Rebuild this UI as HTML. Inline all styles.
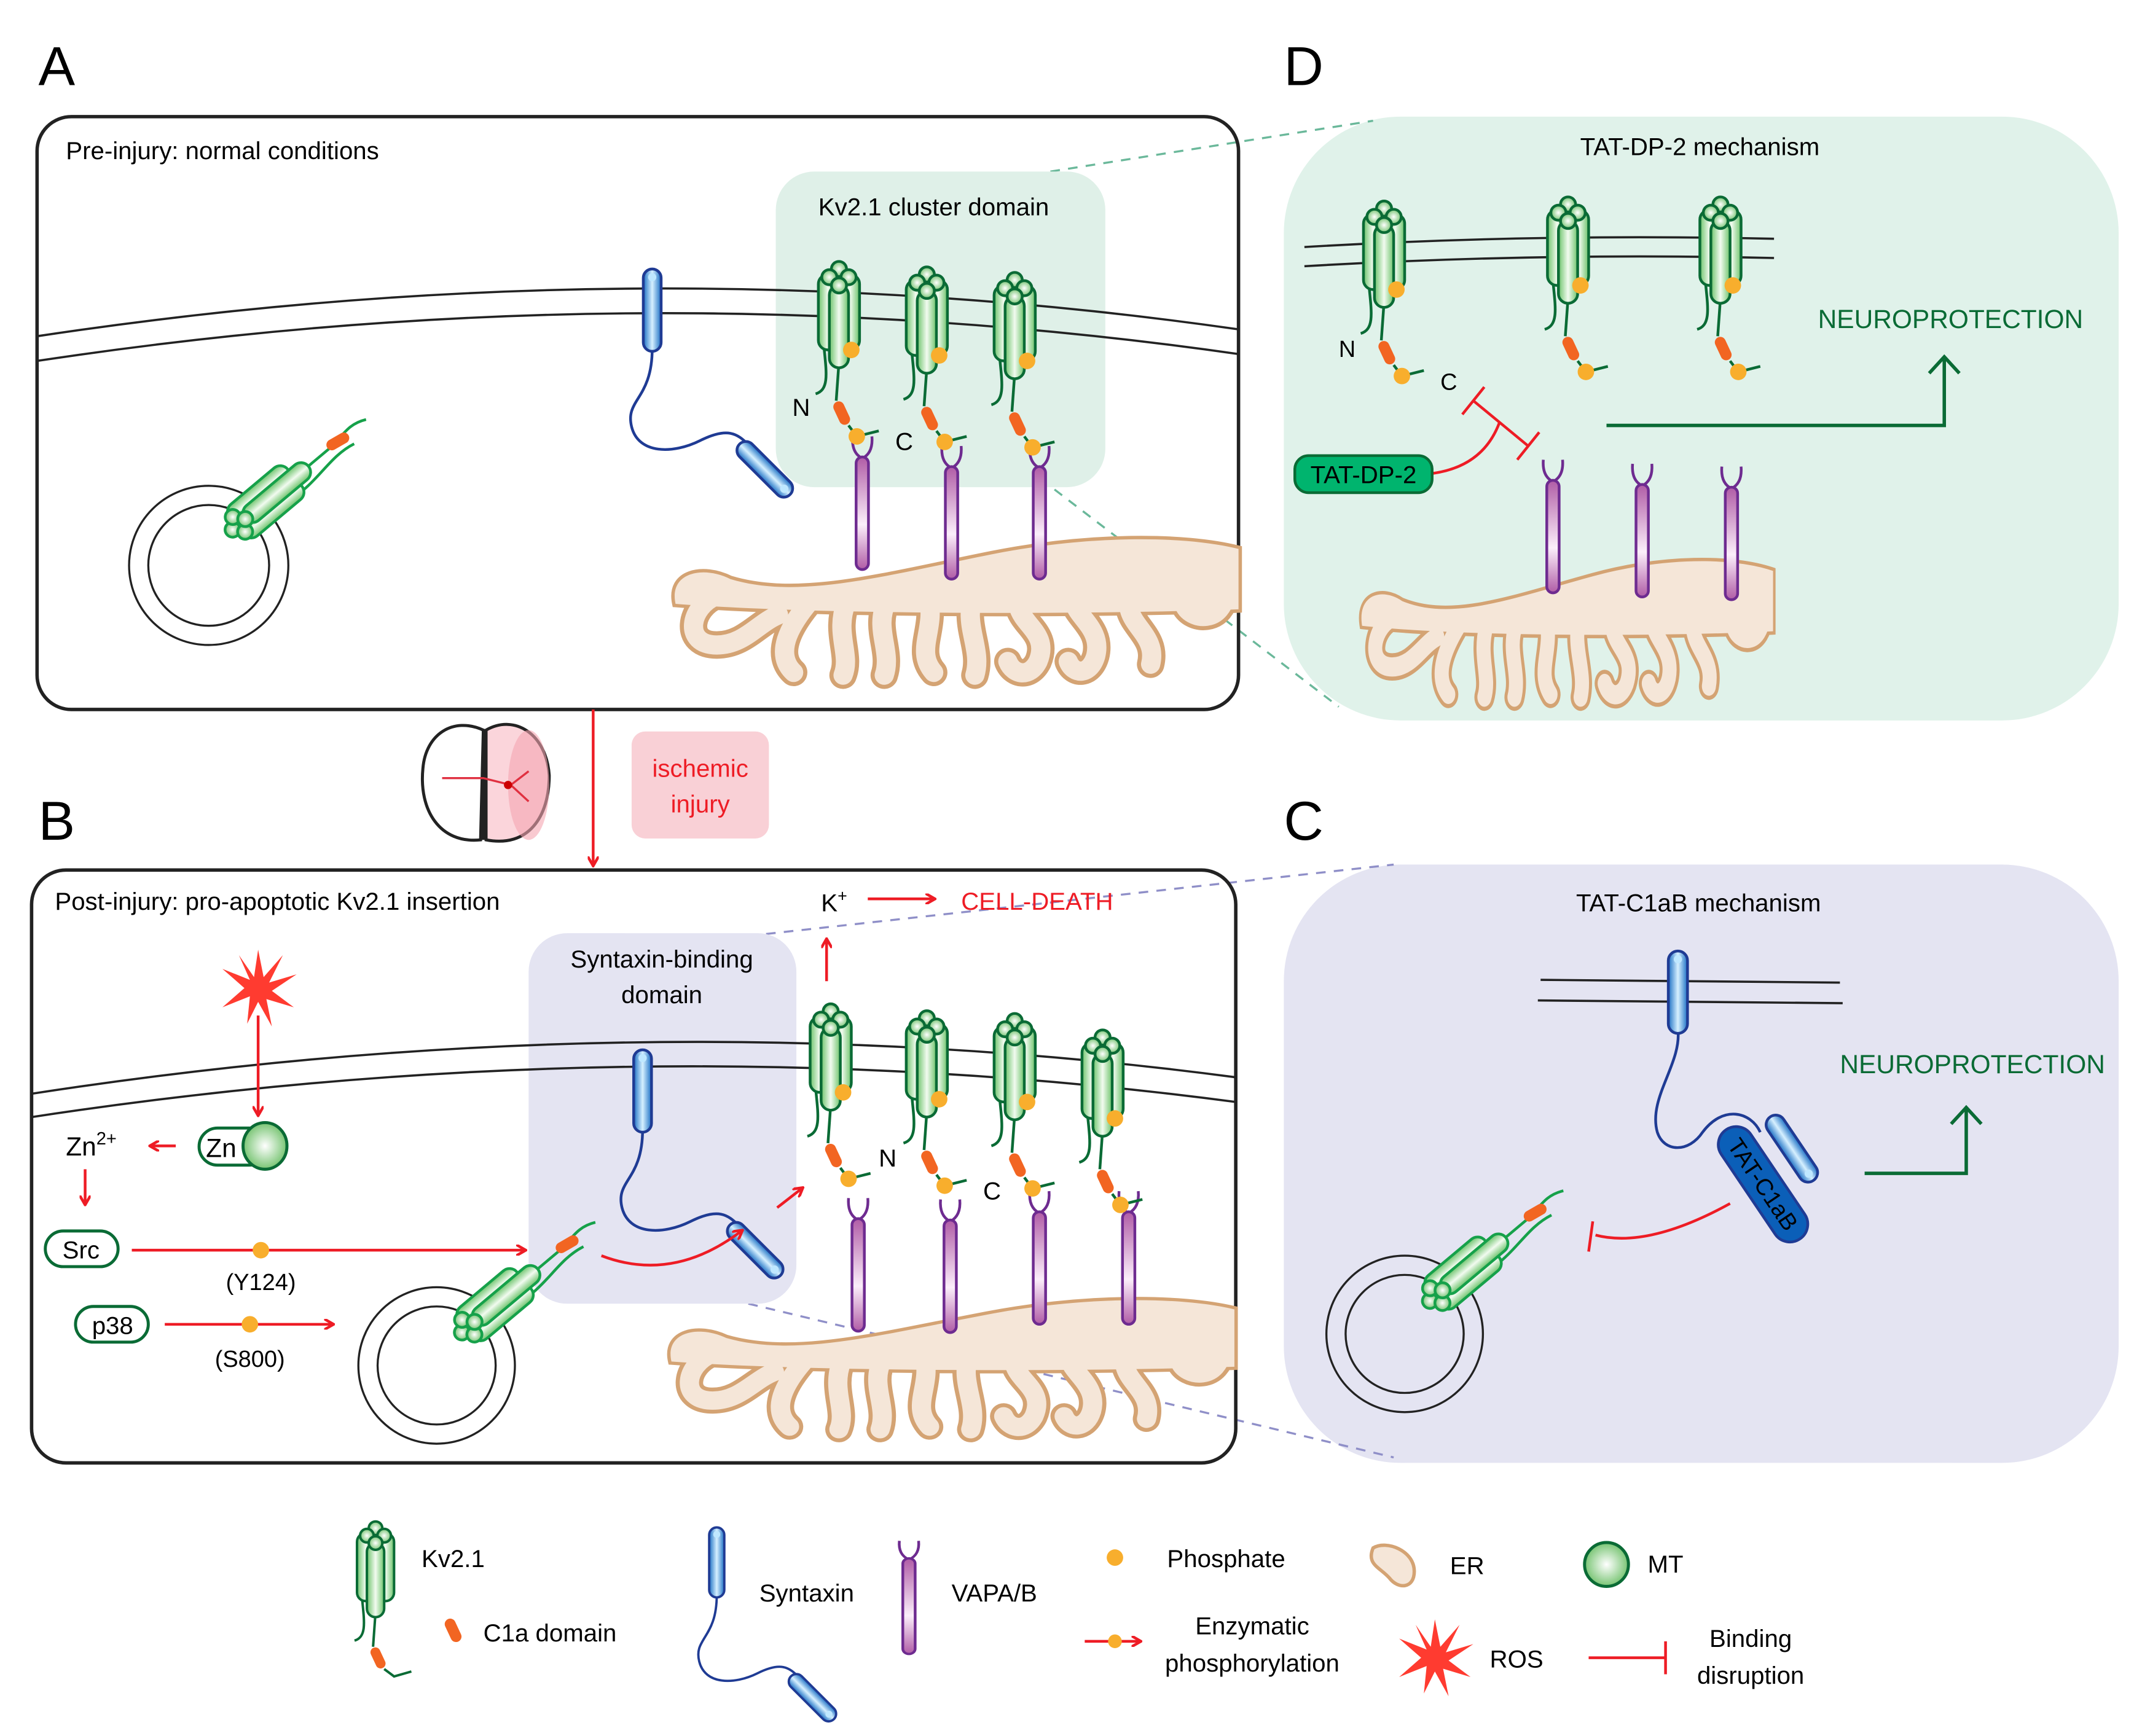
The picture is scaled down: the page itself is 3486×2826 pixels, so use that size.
<!DOCTYPE html>
<html><head><meta charset="utf-8"><style>html,body{margin:0;padding:0;background:#fff}svg{display:block}text{font-family:"Liberation Sans",sans-serif}</style></head><body>
<svg width="3486" height="2826" viewBox="0 0 1560 1265" preserveAspectRatio="none" xmlns="http://www.w3.org/2000/svg">
<defs>
<linearGradient id="gg" x1="0" x2="1" y1="0" y2="0"><stop offset="0" stop-color="#6cc36a"/><stop offset="0.5" stop-color="#f2fbf0"/><stop offset="1" stop-color="#6cc36a"/></linearGradient>
<radialGradient id="gs"><stop offset="0" stop-color="#fff"/><stop offset="1" stop-color="#77c472"/></radialGradient>
<linearGradient id="pg" x1="0" x2="0" y1="0" y2="1"><stop offset="0" stop-color="#b05ca6"/><stop offset="0.6" stop-color="#fbeefa"/><stop offset="1" stop-color="#b05ca6"/></linearGradient>
<linearGradient id="bg" x1="0" x2="1" y1="0" y2="0"><stop offset="0" stop-color="#1a6fc4"/><stop offset="0.5" stop-color="#d6f0ff"/><stop offset="1" stop-color="#1a6fc4"/></linearGradient>
<g id="kv" stroke="#0a6b35" stroke-width="2">
<path d="M4,60 C6,80 8,92 -2,95" fill="none"/>
<path d="M15,72 L13,100" fill="none"/>
<path d="M22,118 L28,126 L44,122" fill="none"/>
<rect x="0" y="8" width="14" height="55" rx="7" fill="url(#gg)"/>
<rect x="16" y="8" width="14" height="55" rx="7" fill="url(#gg)"/>
<rect x="8" y="16" width="14" height="60" rx="7" fill="url(#gg)"/>
<circle cx="15" cy="4" r="5.5" fill="url(#gs)"/><circle cx="8" cy="10" r="5.5" fill="url(#gs)"/><circle cx="22" cy="10" r="5.5" fill="url(#gs)"/><circle cx="15" cy="16" r="5.5" fill="url(#gs)"/>
<circle cx="24" cy="63" r="6" fill="#f8ae2d" stroke="none"/>
<rect x="-4" y="-9" width="8" height="18" rx="4" fill="#f26522" stroke="none" transform="translate(17,109) rotate(-25)"/>
<circle cx="28" cy="126" r="6" fill="#f8ae2d" stroke="none"/>
</g>
<g id="kvl" stroke="#0a6b35" stroke-width="2">
<path d="M4,60 C6,80 8,92 -2,95" fill="none"/>
<path d="M15,72 L13,100" fill="none"/>
<path d="M22,118 L30,124 L44,120" fill="none"/>
<rect x="0" y="8" width="14" height="55" rx="7" fill="url(#gg)"/>
<rect x="16" y="8" width="14" height="55" rx="7" fill="url(#gg)"/>
<rect x="8" y="16" width="14" height="60" rx="7" fill="url(#gg)"/>
<circle cx="15" cy="4" r="5.5" fill="url(#gs)"/><circle cx="8" cy="10" r="5.5" fill="url(#gs)"/><circle cx="22" cy="10" r="5.5" fill="url(#gs)"/><circle cx="15" cy="16" r="5.5" fill="url(#gs)"/>
<rect x="-4" y="-9" width="8" height="18" rx="4" fill="#f26522" stroke="none" transform="translate(17,109) rotate(-25)"/>
</g>
<g id="kvv" stroke="#16a14a" stroke-width="2">
<path d="M15,72 L15,98 C16,110 20,118 14,130" fill="none"/>
<path d="M4,62 C4,80 10,95 6,112" fill="none"/>
<rect x="0" y="8" width="14" height="55" rx="7" fill="url(#gg)"/>
<rect x="16" y="8" width="14" height="55" rx="7" fill="url(#gg)"/>
<rect x="8" y="16" width="14" height="60" rx="7" fill="url(#gg)"/>
<circle cx="15" cy="4" r="5.5" fill="url(#gs)"/><circle cx="8" cy="10" r="5.5" fill="url(#gs)"/><circle cx="22" cy="10" r="5.5" fill="url(#gs)"/><circle cx="15" cy="16" r="5.5" fill="url(#gs)"/>
<rect x="-4" y="-9" width="8" height="18" rx="4" fill="#f26522" stroke="none" transform="translate(15,104) rotate(10)"/>
</g>
<g id="vap">
<path d="M-7,-12 Q-8,0 0,4 Q8,0 7,-12" fill="none" stroke="#6e2b90" stroke-width="2"/>
<rect x="-4.5" y="3" width="9" height="82" rx="4.5" fill="url(#pg)" stroke="#6e2b90" stroke-width="2"/>
</g>
<g id="stx">
<path d="M0,58 C0,95 -20,95 -15,115 C-10,135 15,135 35,125 C55,115 62,120 70,128" fill="none" stroke="#1f3b94" stroke-width="2"/>
<rect x="-6.5" y="0" width="13" height="60" rx="6.5" fill="url(#bg)" stroke="#1f3b94" stroke-width="2"/>
<circle cx="0" cy="6" r="3" fill="#bfe8ff"/>
<g transform="translate(82,146) rotate(-45)"><rect x="-6.5" y="-26" width="13" height="52" rx="6.5" fill="url(#bg)" stroke="#1f3b94" stroke-width="2"/><circle cx="0" cy="20" r="3" fill="#bfe8ff"/></g>
</g>
<path id="blob" d="M0,58 C-5,35 20,30 40,40 C90,55 150,38 230,22 C300,8 370,8 410,18 L410,62 C300,66 100,66 0,58 Z"/>
<g id="fing">
<path d="M30,52 C10,60 5,88 30,88 C50,88 60,72 75,66"/>
<path d="M98,56 C82,75 72,95 86,108"/>
<path d="M124,58 C116,80 128,95 122,110"/>
<path d="M154,56 C144,76 158,92 152,110"/>
<path d="M184,54 C190,76 174,92 188,108"/>
<path d="M218,50 C208,72 224,90 218,110"/>
<path d="M250,50 C244,72 274,76 264,100 C258,112 246,110 242,100"/>
<path d="M292,48 C282,64 312,72 306,96 C302,110 290,110 286,100"/>
<path d="M332,48 C322,72 352,78 346,102"/>
<path d="M372,46 C362,64 386,74 396,62 C404,52 400,42 390,46"/>
</g>
<g id="er">
<use href="#blob" fill="#f5e6d8" stroke="#d4a373" stroke-width="5"/>
<use href="#fing" fill="none" stroke="#d4a373" stroke-width="20" stroke-linecap="round" stroke-linejoin="round"/>
<use href="#fing" fill="none" stroke="#f5e6d8" stroke-width="14" stroke-linecap="round" stroke-linejoin="round"/>
<use href="#blob" fill="#f5e6d8"/>
</g>
<g id="ros"><polygon points="0,-28 4,-8 18,-24 8,-4 28,-10 10,2 26,14 6,8 10,28 0,10 -8,26 -6,6 -26,14 -10,0 -26,-14 -6,-6 -14,-24 -3,-8" fill="#ff3b30"/></g>
<marker id="ar" markerWidth="8" markerHeight="8" refX="6" refY="4" orient="auto" markerUnits="userSpaceOnUse"><path d="M0,0 L7,4 L0,8" fill="none" stroke="#ee1c25" stroke-width="2"/></marker>
</defs>

<text x="28" y="62" font-size="40">A</text>
<text x="28" y="612" font-size="40">B</text>
<text x="935" y="62" font-size="40">D</text>
<text x="935" y="612" font-size="40">C</text>

<rect x="935" y="85" width="608" height="440" rx="85" fill="#e0f2ea"/>
<rect x="935" y="630" width="608" height="436" rx="85" fill="#e4e4f2"/>
<line x1="765" y1="125" x2="1000" y2="88" stroke="#6ab89a" stroke-width="1.5" stroke-dasharray="7,6"/>
<line x1="737" y1="333" x2="975" y2="515" stroke="#6ab89a" stroke-width="1.5" stroke-dasharray="7,6"/>
<line x1="545" y1="682" x2="1015" y2="630" stroke="#8f8fc8" stroke-width="1.5" stroke-dasharray="7,6"/>
<line x1="545" y1="950" x2="1015" y2="1062" stroke="#8f8fc8" stroke-width="1.5" stroke-dasharray="7,6"/>

<!-- Panel A -->
<rect x="27" y="85" width="875" height="432" rx="25" fill="none" stroke="#222" stroke-width="2.5"/>
<rect x="565" y="125" width="240" height="230" rx="28" fill="#dff0e8"/>
<text x="48" y="116" font-size="18">Pre-injury: normal conditions</text>
<text x="680" y="157" font-size="18" text-anchor="middle">Kv2.1 cluster domain</text>
<use href="#er" transform="translate(492,382)"/>
<path d="M27,245 Q470,178 902,240" fill="none" stroke="#222" stroke-width="1.6"/>
<path d="M27,263 Q470,196 902,258" fill="none" stroke="#222" stroke-width="1.6"/>
<circle cx="152" cy="412" r="58" fill="none" stroke="#222" stroke-width="1.5"/>
<circle cx="152" cy="412" r="44" fill="none" stroke="#222" stroke-width="1.5"/>
<use href="#kvv" transform="translate(176,400) rotate(-130)"/>
<use href="#stx" transform="translate(475,196)"/>
<use href="#vap" transform="translate(628,330)"/>
<use href="#vap" transform="translate(693,337)"/>
<use href="#vap" transform="translate(757,337)"/>
<use href="#kv" transform="translate(596,192)"/>
<use href="#kv" transform="translate(660,196)"/>
<use href="#kv" transform="translate(724,200)"/>
<text x="577" y="303" font-size="18">N</text>
<text x="652" y="328" font-size="18">C</text>

<!-- Transition -->
<line x1="432" y1="517" x2="432" y2="630" stroke="#ee1c25" stroke-width="2" marker-end="url(#ar)"/>
<rect x="460" y="533" width="100" height="78" rx="10" fill="#f9d0d6"/>
<text x="510" y="566" font-size="18" fill="#ee1c25" text-anchor="middle">ischemic</text>
<text x="510" y="592" font-size="18" fill="#ee1c25" text-anchor="middle">injury</text>
<g stroke="#222" stroke-width="2.2" fill="none">
<path d="M352,532 C330,522 310,535 308,560 C305,590 320,615 350,612 Z" fill="#fff"/>
<path d="M352,612 C352,590 352,550 352,532" />
<path d="M354,532 C375,520 398,535 400,565 C400,595 385,618 354,612 Z" fill="#fbd5db"/>
</g>
<ellipse cx="385" cy="572" rx="15" ry="40" fill="#f5a5b0" opacity="0.6"/>
<path d="M322,567 L352,567 L372,572 L385,562 M372,572 L385,584" fill="none" stroke="#e03040" stroke-width="1.5"/>
<circle cx="370" cy="572" r="3" fill="#c00"/>

<!-- Panel B -->
<rect x="23" y="634" width="877" height="432" rx="25" fill="none" stroke="#222" stroke-width="2.5"/>
<rect x="385" y="680" width="195" height="270" rx="28" fill="#e4e4f2"/>
<text x="40" y="663" font-size="18">Post-injury: pro-apoptotic Kv2.1 insertion</text>
<text x="482" y="705" font-size="18" text-anchor="middle">Syntaxin-binding</text>
<text x="482" y="731" font-size="18" text-anchor="middle">domain</text>
<use href="#er" transform="translate(489,937) scale(1.0,0.95)"/>
<path d="M23,797 Q470,728 900,785" fill="none" stroke="#222" stroke-width="1.6"/>
<path d="M23,814 Q470,746 900,803" fill="none" stroke="#222" stroke-width="1.6"/>
<circle cx="318" cy="995" r="57" fill="none" stroke="#222" stroke-width="1.5"/>
<circle cx="318" cy="995" r="43" fill="none" stroke="#222" stroke-width="1.5"/>
<use href="#kvv" transform="translate(343,985) rotate(-130)"/>
<use href="#stx" transform="translate(468,765)"/>
<use href="#vap" transform="translate(625,885)"/>
<use href="#vap" transform="translate(692,886)"/>
<use href="#vap" transform="translate(757,880)"/>
<use href="#vap" transform="translate(822,880)"/>
<use href="#kv" transform="translate(590,733)"/>
<use href="#kv" transform="translate(660,738)"/>
<use href="#kv" transform="translate(724,740)"/>
<use href="#kv" transform="translate(788,752)"/>
<text x="640" y="850" font-size="18">N</text>
<text x="716" y="874" font-size="18">C</text>
<line x1="602" y1="715" x2="602" y2="685" stroke="#ee1c25" stroke-width="2" marker-end="url(#ar)"/>
<text x="598" y="664" font-size="18">K<tspan font-size="12" dy="-7">+</tspan></text>
<line x1="632" y1="655" x2="680" y2="655" stroke="#ee1c25" stroke-width="2" marker-end="url(#ar)"/>
<text x="700" y="663" font-size="18" fill="#ee1c25">CELL-DEATH</text>
<path d="M438,915 Q490,935 540,897" fill="none" stroke="#ee1c25" stroke-width="2" marker-end="url(#ar)"/>
<line x1="566" y1="880" x2="584" y2="866" stroke="#ee1c25" stroke-width="2" marker-end="url(#ar)"/>
<use href="#ros" transform="translate(188,720)"/>
<line x1="188" y1="740" x2="188" y2="812" stroke="#ee1c25" stroke-width="2" marker-end="url(#ar)"/>
<rect x="145" y="822" width="50" height="27" rx="13.5" fill="#fff" stroke="#0a6b35" stroke-width="2.2"/>
<text x="150" y="843" font-size="19">Zn</text>
<ellipse cx="193" cy="835" rx="16" ry="17" fill="url(#gs)" stroke="#0a6b35" stroke-width="2.2"/>
<line x1="128" y1="835" x2="110" y2="835" stroke="#ee1c25" stroke-width="2" marker-end="url(#ar)"/>
<text x="48" y="842" font-size="19">Zn<tspan font-size="13" dy="-8">2+</tspan></text>
<line x1="62" y1="852" x2="62" y2="877" stroke="#ee1c25" stroke-width="2" marker-end="url(#ar)"/>
<rect x="33" y="897" width="53" height="26" rx="13" fill="#fff" stroke="#0a6b35" stroke-width="2.2"/>
<text x="59" y="917" font-size="18" text-anchor="middle">Src</text>
<line x1="96" y1="911" x2="382" y2="911" stroke="#ee1c25" stroke-width="2" marker-end="url(#ar)"/>
<circle cx="190" cy="911" r="6" fill="#f8ae2d"/>
<text x="190" y="940" font-size="17" text-anchor="middle">(Y124)</text>
<rect x="55" y="952" width="53" height="26" rx="13" fill="#fff" stroke="#0a6b35" stroke-width="2.2"/>
<text x="82" y="972" font-size="18" text-anchor="middle">p38</text>
<line x1="120" y1="965" x2="242" y2="965" stroke="#ee1c25" stroke-width="2" marker-end="url(#ar)"/>
<circle cx="182" cy="965" r="6" fill="#f8ae2d"/>
<text x="182" y="996" font-size="17" text-anchor="middle">(S800)</text>

<!-- Panel D -->
<text x="1238" y="113" font-size="18" text-anchor="middle">TAT-DP-2 mechanism</text>
<use href="#er" transform="translate(992,398) scale(0.73,1)"/>
<path d="M950,180 Q1120,170 1292,174" fill="none" stroke="#222" stroke-width="1.6"/>
<path d="M950,194 Q1120,184 1292,188" fill="none" stroke="#222" stroke-width="1.6"/>
<use href="#vap" transform="translate(1131,347)"/>
<use href="#vap" transform="translate(1196,350)"/>
<use href="#vap" transform="translate(1261,352)"/>
<use href="#kv" transform="translate(993,148)"/>
<use href="#kv" transform="translate(1127,145)"/>
<use href="#kv" transform="translate(1238,145)"/>
<text x="975" y="260" font-size="17">N</text>
<text x="1049" y="284" font-size="17">C</text>
<text x="1324" y="239" font-size="19" fill="#0a6b35">NEUROPROTECTION</text>
<path d="M1170,310 L1416,310 L1416,262" fill="none" stroke="#0a6b35" stroke-width="2.5"/>
<path d="M1405,272 L1416,260 L1427,272" fill="none" stroke="#0a6b35" stroke-width="2.5"/>
<g stroke="#ee1c25" stroke-width="2" fill="none">
<line x1="1073" y1="292" x2="1113" y2="325"/>
<line x1="1065" y1="302" x2="1081" y2="282"/>
<line x1="1105" y1="335" x2="1121" y2="315"/>
<path d="M1043,345 Q1080,340 1092,308"/>
</g>
<rect x="943" y="332" width="100" height="27" rx="10" fill="#00b46e" stroke="#0a6b35" stroke-width="2"/>
<text x="993" y="352" font-size="18" text-anchor="middle">TAT-DP-2</text>

<!-- Panel C -->
<text x="1237" y="664" font-size="18" text-anchor="middle">TAT-C1aB mechanism</text>
<line x1="1122" y1="714" x2="1340" y2="716" stroke="#222" stroke-width="1.6"/>
<line x1="1120" y1="729" x2="1342" y2="731" stroke="#222" stroke-width="1.6"/>
<path d="M1222,750 C1225,775 1200,800 1207,825 C1212,840 1230,840 1240,825 C1255,805 1275,810 1282,825" fill="none" stroke="#1f3b94" stroke-width="2"/>
<rect x="1215" y="693" width="14" height="60" rx="7" fill="url(#bg)" stroke="#1f3b94" stroke-width="2"/>
<circle cx="1222" cy="699" r="3" fill="#bfe8ff"/>
<g transform="translate(1305,837) rotate(-34)"><rect x="-7" y="-28" width="14" height="56" rx="7" fill="url(#bg)" stroke="#1f3b94" stroke-width="2"/><circle cx="0" cy="22" r="3" fill="#bfe8ff"/></g>
<g transform="translate(1284,863) rotate(-34)"><rect x="-13" y="-48" width="26" height="96" rx="13" fill="#0b5fb8" stroke="#1f3b94" stroke-width="2"/><text x="0" y="6" font-size="17" text-anchor="middle" transform="rotate(90)">TAT-C1aB</text></g>
<path d="M1260,877 Q1200,910 1162,900" fill="none" stroke="#ee1c25" stroke-width="2"/>
<line x1="1160" y1="890" x2="1157" y2="912" stroke="#ee1c25" stroke-width="2"/>
<text x="1340" y="782" font-size="19" fill="#0a6b35">NEUROPROTECTION</text>
<path d="M1358,855 L1432,855 L1432,808" fill="none" stroke="#0a6b35" stroke-width="2.5"/>
<path d="M1421,819 L1432,807 L1443,819" fill="none" stroke="#0a6b35" stroke-width="2.5"/>
<circle cx="1023" cy="972" r="57" fill="none" stroke="#222" stroke-width="1.5"/>
<circle cx="1023" cy="972" r="43" fill="none" stroke="#222" stroke-width="1.5"/>
<use href="#kvv" transform="translate(1048,962) rotate(-130)"/>

<!-- Legend -->
<use href="#kvl" transform="translate(260,1110) scale(0.9)"/>
<text x="307" y="1142" font-size="18">Kv2.1</text>
<rect x="-4" y="-9" width="8" height="18" rx="4" fill="#f26522" transform="translate(330,1188) rotate(-25)"/>
<text x="352" y="1196" font-size="18">C1a domain</text>
<use href="#stx" transform="translate(522,1113) scale(0.85)"/>
<text x="553" y="1167" font-size="18">Syntaxin</text>
<use href="#vap" transform="translate(662,1133) scale(1,0.85)"/>
<text x="693" y="1167" font-size="18">VAPA/B</text>
<circle cx="812" cy="1135" r="6" fill="#f8ae2d"/>
<text x="850" y="1142" font-size="18">Phosphate</text>
<line x1="790" y1="1196" x2="830" y2="1196" stroke="#ee1c25" stroke-width="2" marker-end="url(#ar)"/>
<circle cx="812" cy="1196" r="5" fill="#f8ae2d"/>
<text x="912" y="1191" font-size="18" text-anchor="middle">Enzymatic</text>
<text x="912" y="1218" font-size="18" text-anchor="middle">phosphorylation</text>
<path d="M1000,1128 C1010,1122 1030,1130 1030,1145 C1030,1158 1018,1158 1012,1150 C1005,1142 995,1140 1000,1128 Z" fill="#f5e6d8" stroke="#d4a373" stroke-width="2.5"/>
<text x="1056" y="1147" font-size="18">ER</text>
<circle cx="1170" cy="1140" r="16" fill="url(#gs)" stroke="#0a6b35" stroke-width="2.2"/>
<text x="1200" y="1146" font-size="18">MT</text>
<use href="#ros" transform="translate(1045,1208)"/>
<text x="1085" y="1215" font-size="18">ROS</text>
<line x1="1157" y1="1208" x2="1213" y2="1208" stroke="#ee1c25" stroke-width="2"/>
<line x1="1213" y1="1196" x2="1213" y2="1220" stroke="#ee1c25" stroke-width="2"/>
<text x="1275" y="1200" font-size="18" text-anchor="middle">Binding</text>
<text x="1275" y="1227" font-size="18" text-anchor="middle">disruption</text>
</svg>
</body></html>
